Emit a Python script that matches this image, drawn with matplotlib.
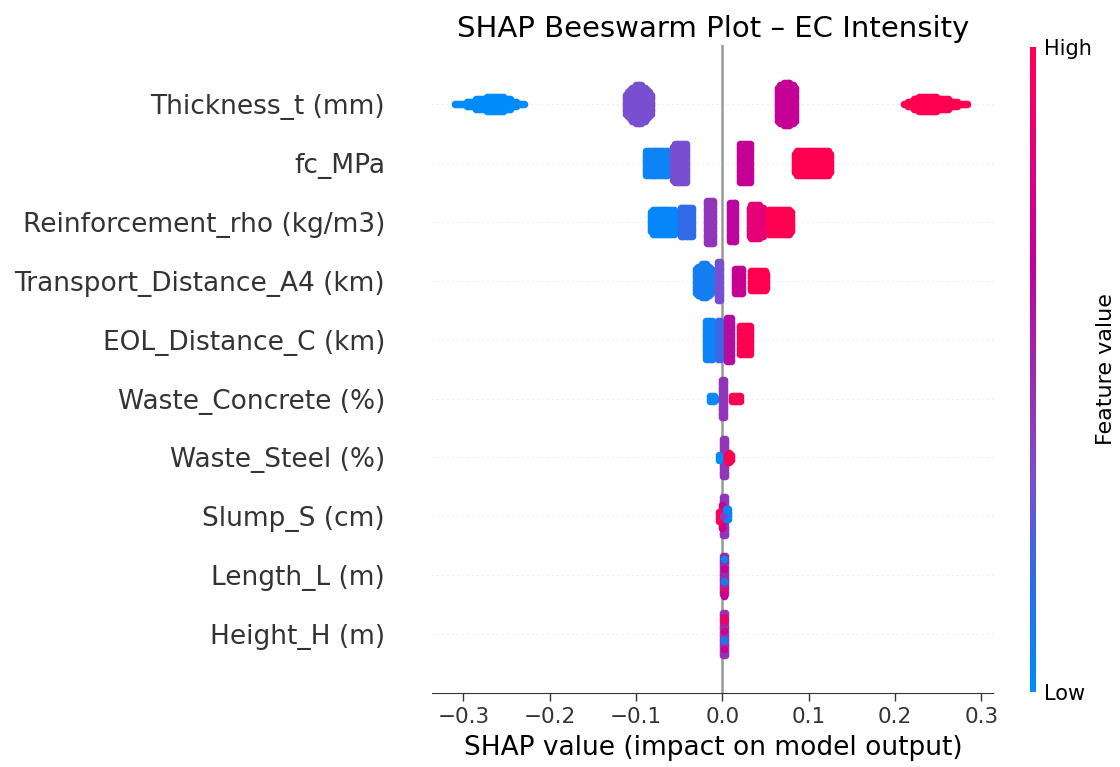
import numpy as np
import matplotlib
matplotlib.use("Agg")
import matplotlib.pyplot as plt
from matplotlib.colors import LinearSegmentedColormap, Normalize
from matplotlib.cm import ScalarMappable

# features, top to bottom
features = ["Thickness_t (mm)", "fc_MPa", "Reinforcement_rho (kg/m3)",
            "Transport_Distance_A4 (km)", "EOL_Distance_C (km)", "Waste_Concrete (%)",
            "Waste_Steel (%)", "Slump_S (cm)", "Length_L (m)", "Height_H (m)"]

# clusters of shap values:
# (lo, peak, hi, half-thickness in rows, feature level 0..1, profile exponent, row offset)
thickness = [(-0.314, -0.262, -0.225, 0.21, 0.00, 1.3, 0.0),
             (-0.116, -0.097, -0.079, 0.40, 0.33, 2.0, 0.0),
             (0.060, 0.074, 0.089, 0.43, 0.70, 3.0, 0.0),
             (0.206, 0.236, 0.288, 0.21, 1.00, 1.4, 0.0)]
fc = [(-0.093, -0.076, -0.059, 0.30, 0.05, 4.0, 0.0),
      (-0.062, -0.042, -0.037, 0.42, 0.33, 4.0, 0.0),
      (0.016, 0.026, 0.037, 0.41, 0.70, 4.0, 0.0),
      (0.080, 0.104, 0.128, 0.30, 1.00, 4.0, 0.0)]
reinforcement = [(-0.087, -0.069, -0.051, 0.29, 0.02, 4.0, 0.0),
                 (-0.053, -0.041, -0.030, 0.32, 0.18, 4.0, 0.0),
                 (-0.022, -0.014, -0.007, 0.44, 0.45, 4.0, 0.0),
                 (0.004, 0.012, 0.020, 0.42, 0.65, 4.0, 0.0),
                 (0.027, 0.039, 0.051, 0.35, 0.85, 4.0, 0.0),
                 (0.049, 0.062, 0.085, 0.29, 1.00, 4.0, 0.0)]
transport = [(-0.035, -0.021, -0.008, 0.35, 0.08, 2.5, 0.0),
             (-0.010, -0.004, 0.002, 0.42, 0.33, 4.0, 0.0),
             (0.010, 0.019, 0.028, 0.30, 0.70, 4.0, 0.0),
             (0.029, 0.042, 0.055, 0.24, 1.00, 4.0, 0.0)]
eol = [(-0.023, -0.015, -0.008, 0.41, 0.05, 4.0, 0.0),
       (-0.010, -0.004, 0.002, 0.41, 0.20, 4.0, 0.0),
       (0.001, 0.008, 0.015, 0.43, 0.62, 4.0, 0.0),
       (0.016, 0.026, 0.037, 0.33, 1.00, 4.0, 0.0)]
waste_concrete = [(-0.0185, -0.011, -0.0035, 0.12, 0.00, 2.0, 0.0),
                  (-0.005, 0.0005, 0.006, 0.42, 0.45, 4.0, 0.0),
                  (0.007, 0.0155, 0.024, 0.13, 1.00, 2.0, 0.0)]
waste_steel = [(-0.0035, 0.0017, 0.007, 0.40, 0.45, 4.0, 0.0),
               (-0.008, -0.0035, 0.001, 0.13, 0.00, 2.0, 0.0),
               (0.001, 0.0075, 0.014, 0.15, 1.00, 2.0, 0.0)]
slump = [(-0.0035, 0.002, 0.008, 0.42, 0.45, 4.0, 0.0),
         (-0.005, -0.001, 0.003, 0.30, 0.72, 4.0, 0.0),
         (-0.006, -0.0035, -0.001, 0.15, 1.00, 2.0, 0.0),
         (0.000, 0.005, 0.0105, 0.17, 0.05, 2.0, 0.04),
         (-0.002, 0.001, 0.004, 0.09, 0.40, 2.0, 0.0)]
length = [(-0.0035, 0.0017, 0.0069, 0.42, 0.50, 4.0, 0.0),
          (-0.002, 0.0015, 0.005, 0.10, 0.70, 2.0, 0.10),
          (-0.002, 0.0015, 0.005, 0.08, 0.05, 2.0, 0.28),
          (-0.002, 0.0015, 0.005, 0.08, 0.10, 2.0, -0.09),
          (-0.002, 0.0015, 0.005, 0.08, 0.90, 2.0, -0.26),
          (-0.002, 0.0015, 0.005, 0.06, 0.70, 2.0, -0.35)]
height = [(-0.0035, 0.0017, 0.0069, 0.43, 0.45, 4.0, 0.0),
          (-0.002, 0.0015, 0.005, 0.12, 0.90, 2.0, 0.25),
          (-0.002, 0.0015, 0.005, 0.08, 0.75, 2.0, 0.05),
          (-0.002, 0.0015, 0.005, 0.10, 0.10, 2.0, -0.10),
          (-0.002, 0.0015, 0.005, 0.08, 0.70, 2.0, -0.25)]

clusters = [thickness, fc, reinforcement, transport, eol,
            waste_concrete, waste_steel, slump, length, height]

xticks = [-0.3, -0.2, -0.1, 0.0, 0.1, 0.2, 0.3]

# shap-like red/blue map
cmap = LinearSegmentedColormap.from_list(
    "red_blue", ["#008bfb", "#2a6de8", "#7a4ed0", "#9a2ab0", "#c0009c", "#e2007a", "#ff0051"])

fig = plt.figure(figsize=(11.2, 7.67), dpi=100)
ax = fig.add_axes([0.386, 0.0965, 0.501, 0.8445])

DX, DY = 0.0022, 0.04   # swarm packing step (data, rows)
RX, RY = 0.0045, 0.066  # marker radius (data, rows)


def swarm(lo, peak, hi, half, p):
    # outline of the cluster is given by lo/hi/half (outer edges),
    # dots are packed inside it
    lo2, hi2 = lo + RX, hi - RX
    if hi2 <= lo2:
        cols = [(lo + hi) / 2]
    else:
        cols = np.arange(lo2, hi2 + DX / 2, DX)
    pts_x, pts_y = [], []
    for x in cols:
        if x < peak:
            t = (peak - x) / (peak - lo) if peak > lo else 0.0
        else:
            t = (x - peak) / (hi - peak) if hi > peak else 0.0
        t = min(t, 1.0)
        h = half * (1 - t ** p) ** (1 / p) - RY
        n = int(max(h, 0.0) / DY)
        for k in range(-n, n + 1):
            pts_x.append(x)
            pts_y.append(k * DY)
    return np.array(pts_x), np.array(pts_y)


n = len(features)
for i, (name, cl) in enumerate(zip(features, clusters)):
    row = n - 1 - i
    ax.axhline(row, color="#cccccc", lw=0.6, dashes=(1, 5), zorder=-1)
    for lo, peak, hi, half, level, p, yoff in cl:
        xs, ys = swarm(lo, peak, hi, half, p)
        ax.scatter(xs, row + yoff + ys, s=30, color=cmap(level), linewidths=0, zorder=3)

ax.axvline(0, color="#999999", lw=1.8, zorder=-1)

ax.set_xlim(-0.336, 0.314)
ax.set_ylim(-1, n)
ax.set_yticks(range(n))
ax.set_yticklabels(features[::-1], fontsize=19, color="#333333")
ax.tick_params(axis="y", length=0, pad=34)
ax.set_xticks(xticks)
ax.set_xticklabels([f"{v:.1f}".replace("-", "\u2212") for v in xticks], fontsize=15.5, color="#333333")
ax.tick_params(axis="x", length=6, width=1, color="#333333", pad=4)
for s in ["top", "right", "left"]:
    ax.spines[s].set_visible(False)
ax.spines["bottom"].set_color("#333333")
ax.set_xlabel("SHAP value (impact on model output)", fontsize=19, labelpad=6)
ax.set_title("SHAP Beeswarm Plot \u2013 EC Intensity", fontsize=21, pad=6)

cax = fig.add_axes([0.9196, 0.0978, 0.0054, 0.841])
cb = fig.colorbar(ScalarMappable(norm=Normalize(0, 1), cmap=cmap), cax=cax, ticks=[0, 1])
cb.set_ticklabels(["Low", "High"])
cb.ax.tick_params(labelsize=15, length=0, pad=6)
cb.outline.set_visible(False)
cb.set_label("Feature value", fontsize=16, labelpad=3)

fig.savefig("out.png", dpi=100)
